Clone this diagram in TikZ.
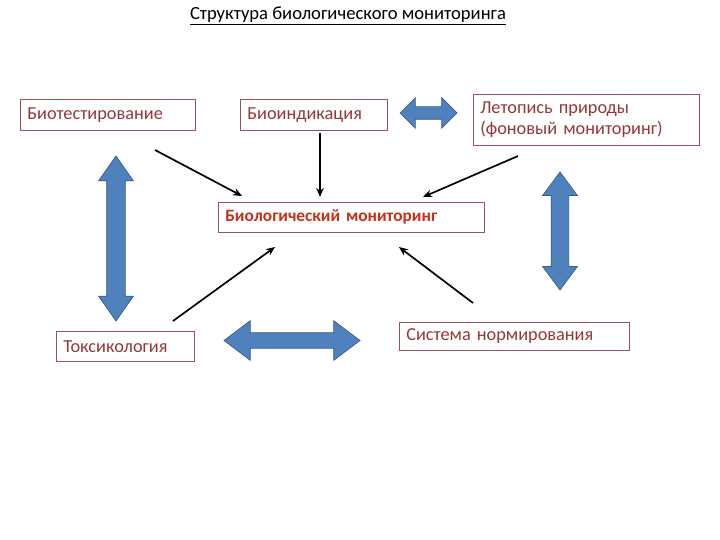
\documentclass[tikz,border=0pt]{standalone}
\usepackage{fontspec}
\setmainfont{Carlito}
\usetikzlibrary{arrows.meta,shapes.arrows}
\definecolor{boxline}{HTML}{A0505A}
\definecolor{boxtext}{HTML}{953735}
\definecolor{hubtext}{HTML}{C4301C}
\definecolor{arrfill}{HTML}{4F81BD}
\definecolor{arrline}{HTML}{385D8A}
\tikzset{
 box/.style={draw=boxline,line width=.6pt,text=boxtext,anchor=north west,
  align=left,inner xsep=7pt,inner ysep=0pt,font=\fontsize{18.3}{21}\selectfont},
 hub/.style={box,text=hubtext,font=\fontsize{17.3}{20}\selectfont\bfseries},
 dblarrow/.style={double arrow,fill=arrfill,draw=arrline,line width=.7pt},
 link/.style={-{Stealth[length=9pt,width=7.5pt]},line width=1.7pt}
}

\begin{document}
\begin{tikzpicture}[x=1pt,y=-1pt]
\useasboundingbox (0,0) rectangle (720,540);
\node[font=\fontsize{18.6}{21}\selectfont] (title) at (348,16) {\underline{Структура биологического мониторинга}};
% boxes
\node[box,text width=161,minimum height=31] (biotest) at (20,99) {Биотестирование};
\node[box,text width=133,minimum height=31] (bioind) at (240,99) {Биоиндикация};
\node[box,text width=212,minimum height=51] (letopis) at (473,94) {Летопись природы\\(фоновый мониторинг)};
\node[hub,text width=252,minimum height=30] (biomon) at (218,202) {Биологический мониторинг};
\node[box,text width=124,minimum height=30] (toxic) at (56,331) {Токсикология};
\node[box,text width=216,minimum height=28] (norm) at (399,322) {Система нормирования};
% blue double arrows
\node[dblarrow,minimum height=165,minimum width=34,inner sep=9,double arrow head extend=8,
 double arrow tip angle=70,shape border rotate=90] (leftarr) at (116,238.5) {};
\node[dblarrow,minimum height=118,minimum width=34,inner sep=8.5,double arrow head extend=8.5,
 double arrow tip angle=73,shape border rotate=90] (rightarr) at (560,231) {};
\node[dblarrow,minimum height=57,minimum width=30,inner sep=6,double arrow head extend=9,
 double arrow tip angle=90] (toparr) at (428.5,113) {};
\node[dblarrow,minimum height=136,minimum width=39,inner sep=7.5,double arrow head extend=12,
 double arrow tip angle=74] (botarr) at (292,340.5) {};
% black links into the hub
\coordinate (a1) at (155,150);
\coordinate (b1) at (242,196);
\coordinate (a2) at (320,133);
\coordinate (b2) at (320,197);
\coordinate (a3) at (518,156);
\coordinate (b3) at (423,197);
\coordinate (a4) at (173,321);
\coordinate (b4) at (275,247);
\coordinate (a5) at (473,303);
\coordinate (b5) at (399,247);
\foreach \i in {1,...,5}
{\draw[link] (a\i)--(b\i);}
\end{tikzpicture}
\end{document}
